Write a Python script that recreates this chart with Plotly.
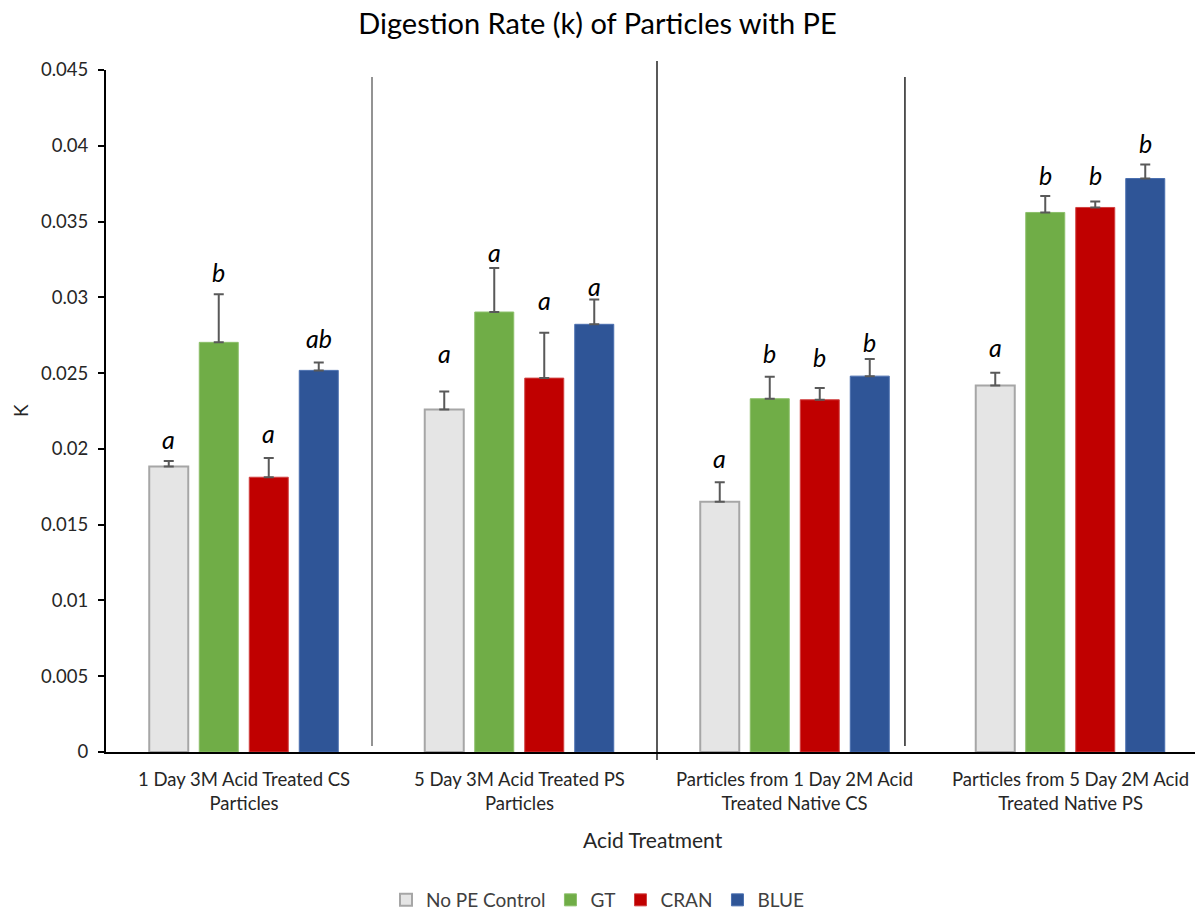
import plotly.graph_objects as go

categories = [
    "1 Day 3M Acid Treated CS<br>Particles",
    "5 Day 3M Acid Treated PS<br>Particles",
    "Particles from 1 Day 2M Acid<br>Treated Native CS",
    "Particles from 5 Day 2M Acid<br>Treated Native PS",
]
series_names = ["No PE Control", "GT", "CRAN", "BLUE"]

no_pe = [0.01883, 0.02260, 0.01652, 0.02419]
gt = [0.02703, 0.02903, 0.02331, 0.03560]
cran = [0.01813, 0.02467, 0.02324, 0.03593]
blue = [0.02518, 0.02822, 0.02480, 0.03784]

no_pe_err = [0.00037, 0.00119, 0.00128, 0.00083]
gt_err = [0.00317, 0.00291, 0.00145, 0.00109]
cran_err = [0.00127, 0.00300, 0.00077, 0.00039]
blue_err = [0.00052, 0.00163, 0.00113, 0.00093]

no_pe_letters = ["a", "a", "a", "a"]
gt_letters = ["b", "a", "b", "b"]
cran_letters = ["a", "a", "b", "b"]
blue_letters = ["ab", "a", "b", "b"]

no_pe_letter_y = [0.02065, 0.02633, 0.01940, 0.02673]
gt_letter_y = [0.03168, 0.03300, 0.02633, 0.03809]
cran_letter_y = [0.02105, 0.02983, 0.02607, 0.03809]
blue_letter_y = [0.02732, 0.03076, 0.02706, 0.04020]

y_ticks = [0, 0.005, 0.01, 0.015, 0.02, 0.025, 0.03, 0.035, 0.04, 0.045]
y_tick_text = ["0", "0.005", "0.01", "0.015", "0.02", "0.025", "0.03", "0.035", "0.04", "0.045"]

values = [no_pe, gt, cran, blue]
errors = [no_pe_err, gt_err, cran_err, blue_err]
letters = [no_pe_letters, gt_letters, cran_letters, blue_letters]
letter_y = [no_pe_letter_y, gt_letter_y, cran_letter_y, blue_letter_y]
fills = ["#E5E5E5", "#70AD47", "#C00000", "#2F5597"]
edges = ["#A6A6A6", "#8CBF6A", "#D04040", "#4A6FAF"]
edge_w = [2, 1, 1, 1]

FONT = "Lato, Open Sans, sans-serif"
TXT = "#262626"

PL, PT, PW, PH = 106, 70, 1089, 682


def px_x(xp):
    return (xp - PL) / PW


def px_y(yp):
    return (PT + PH - yp) / PH


fig = go.Figure()
for i in range(4):
    fig.add_trace(go.Bar(
        name=series_names[i],
        x=categories,
        y=values[i],
        marker=dict(color=fills[i], line=dict(color=edges[i], width=edge_w[i])),
        error_y=dict(type="data", symmetric=False, array=errors[i],
                     arrayminus=[0] * 4, color="#595959", thickness=2, width=5),
    ))

n = 4
group_w = 0.726
slot = group_w / n
annotations = []
for i in range(4):
    for j, cat in enumerate(categories):
        xpos = j - group_w / 2 + slot * (i + 0.5)
        annotations.append(dict(
            x=xpos, y=letter_y[i][j], xref="x", yref="y",
            text="<i>" + letters[i][j] + "</i>", showarrow=False,
            font=dict(family=FONT, size=25, color="#000000"),
            xanchor="center", yanchor="middle",
        ))

annotations.append(dict(
    x=px_x(20), y=0.5, xref="paper", yref="paper", text="K", textangle=-90,
    xanchor="center", yanchor="middle",
    showarrow=False, font=dict(family=FONT, size=19, color=TXT),
))
annotations.append(dict(
    x=px_x(653), y=px_y(840), xref="paper", yref="paper", text="Acid Treatment",
    xanchor="center", yanchor="middle",
    showarrow=False, font=dict(family=FONT, size=21, color=TXT),
))
for j, cat in enumerate(categories):
    annotations.append(dict(
        x=j, y=px_y(791), xref="x", yref="paper", text=cat,
        xanchor="center", yanchor="middle", showarrow=False,
        font=dict(family=FONT, size=18.5, color=TXT), align="center",
    ))

fig.update_layout(
    width=1195, height=911,
    margin=dict(l=PL, r=1195 - PL - PW, t=PT, b=911 - PT - PH),
    paper_bgcolor="white", plot_bgcolor="white",
    barmode="group", bargap=0.274, bargroupgap=0.22,
    title=dict(text="Digestion Rate (k) of Particles with PE", x=0.5, xanchor="center",
               y=1 - 24 / 911, yanchor="middle", yref="container",
               font=dict(family=FONT, size=29, color="#000000")),
    font=dict(family=FONT, color=TXT),
    showlegend=True,
    legend=dict(orientation="h", x=0.5, xanchor="center", xref="container",
                y=11 / 911, yref="container", yanchor="middle",
                font=dict(family=FONT, size=19, color="#404040"),
                itemwidth=30, traceorder="normal", tracegroupgap=0),
    xaxis=dict(
        type="category", range=[-0.5, -0.5 + PW / 275.5],
        showline=True, linecolor="#000000", linewidth=2,
        ticks="", showgrid=False, zeroline=False, showticklabels=False,
    ),
    yaxis=dict(
        range=[0, 0.045], tickvals=y_ticks, ticktext=y_tick_text,
        showline=True, linecolor="#000000", linewidth=2,
        ticks="outside", ticklen=6, tickcolor="#000000", tickwidth=2,
        showgrid=False, zeroline=False, ticklabelstandoff=6,
        tickfont=dict(family=FONT, size=18.5, color=TXT),
    ),
    annotations=annotations,
)

divider_x = [0.4655, 1.5, 2.4]
divider_top = [px_y(77), px_y(61), px_y(77)]
divider_bot = [px_y(746), px_y(760), px_y(746)]
divider_col = ["#595959", "#000000", "#000000"]
for k in range(3):
    fig.add_shape(type="line", xref="x", yref="paper",
                  x0=divider_x[k], x1=divider_x[k], y0=divider_bot[k], y1=divider_top[k],
                  line=dict(color=divider_col[k], width=1.3))

fig.write_html("out.html")
